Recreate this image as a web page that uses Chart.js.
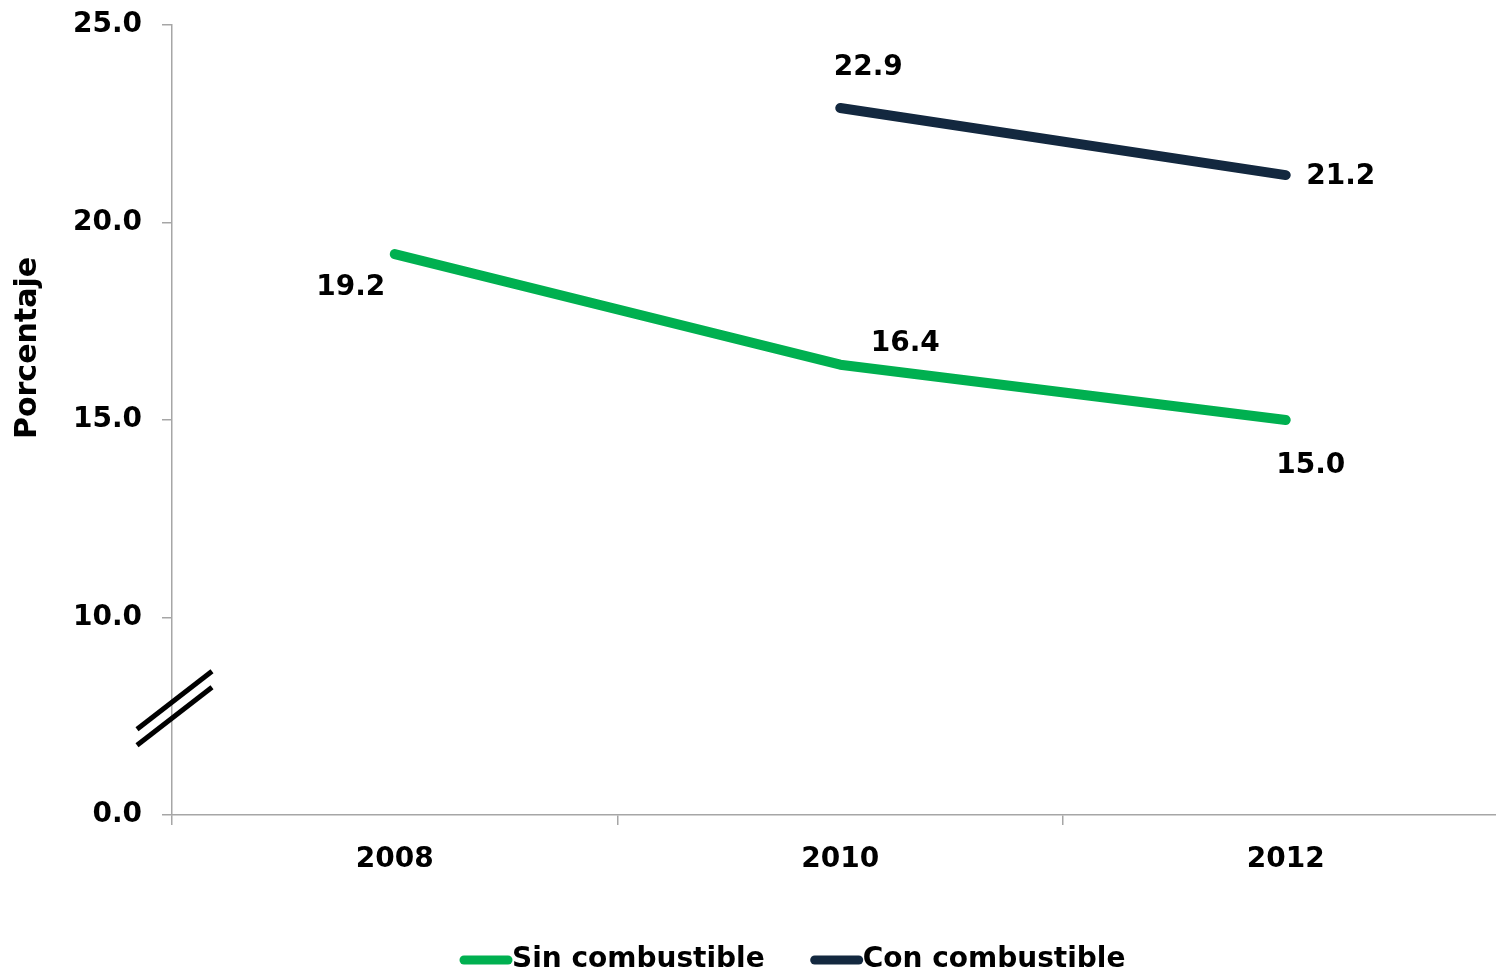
<!DOCTYPE html>
<html lang="es">
<head>
<meta charset="utf-8">
<title>Porcentaje sin y con combustible</title>
<script src="https://cdn.jsdelivr.net/npm/chart.js@4/dist/chart.umd.min.js"></script>
<style>
  html, body { margin: 0; padding: 0; background: #fff; overflow: hidden; }
  .wrap { width: 1496px; height: 974px; overflow: hidden; position: relative; }
  canvas { display: block; }
</style>
</head>
<body>
<div class="wrap">
  <canvas id="chart" width="1520" height="974"></canvas>
</div>
<script>
// datos
const years = ['2008', '2010', '2012'];
const sinCombustible = [19.2, 16.4, 15.0];
const conCombustible = [null, 22.9, 21.2];
const yTickLabels = ['0.0', '10.0', '15.0', '20.0', '25.0'];
const axisTitle = 'Porcentaje';

const GREEN = '#00b050';
const NAVY = '#13283f';
const AXIS = '#a6a6a6';
const FONT = '"DejaVu Sans", Verdana, sans-serif';

// desplazamiento de cada etiqueta respecto a su punto (px)
const labelOffsets = [
  [[-44, 34], [65, -21], [25, 46]],
  [null, [28, -40], [55, 2]],
];

const dataLabels = {
  id: 'dataLabels',
  afterDatasetsDraw(chart) {
    const ctx = chart.ctx;
    ctx.save();
    ctx.font = `bold 28px ${FONT}`;
    ctx.fillStyle = '#000';
    ctx.textAlign = 'center';
    ctx.textBaseline = 'middle';
    chart.data.datasets.forEach((ds, di) => {
      chart.getDatasetMeta(di).data.forEach((pt, i) => {
        const v = ds.data[i];
        if (v == null) return;
        const off = labelOffsets[di][i] || [0, -30];
        ctx.fillText(v.toFixed(1), pt.x + off[0], pt.y + off[1]);
      });
    });
    ctx.restore();
  },
};

// marca de corte del eje, titulo del eje y leyenda
const extras = {
  id: 'extras',
  afterDraw(chart) {
    const ctx = chart.ctx;
    const y = chart.scales.y;
    const cx = chart.chartArea.left + 2;
    const cy = y.getPixelForValue(7.7);
    ctx.save();
    ctx.strokeStyle = '#000';
    ctx.lineWidth = 5;
    [-8, 8].forEach((d) => {
      ctx.beginPath();
      ctx.moveTo(cx - 37, cy + d + 29);
      ctx.lineTo(cx + 38, cy + d - 29);
      ctx.stroke();
    });

    ctx.font = `bold 30px ${FONT}`;
    ctx.fillStyle = '#000';
    ctx.textAlign = 'center';
    ctx.textBaseline = 'middle';
    ctx.translate(28, 348);
    ctx.rotate(-Math.PI / 2);
    ctx.fillText(axisTitle, 0, 0);
    ctx.restore();

    ctx.save();
    ctx.font = `bold 28px ${FONT}`;
    ctx.textBaseline = 'middle';
    ctx.lineCap = 'round';
    ctx.lineWidth = 9;
    let x = 462;
    const ly = 960;
    chart.data.datasets.forEach((ds) => {
      ctx.strokeStyle = ds.borderColor;
      ctx.beginPath();
      ctx.moveTo(x + 2, ly);
      ctx.lineTo(x + 46, ly);
      ctx.stroke();
      ctx.fillStyle = '#000';
      ctx.textAlign = 'left';
      ctx.fillText(ds.label, x + 50, ly);
      x += 50 + ctx.measureText(ds.label).width + 48;
    });
    ctx.restore();
  },
};

new Chart(document.getElementById('chart'), {
  type: 'line',
  data: {
    labels: years,
    datasets: [
      {
        label: 'Sin combustible',
        data: sinCombustible,
        borderColor: GREEN,
        backgroundColor: GREEN,
        borderWidth: 10,
        borderCapStyle: 'round',
        borderJoinStyle: 'round',
        pointRadius: 0,
        tension: 0,
      },
      {
        label: 'Con combustible',
        data: conCombustible,
        borderColor: NAVY,
        backgroundColor: NAVY,
        borderWidth: 10,
        borderCapStyle: 'round',
        borderJoinStyle: 'round',
        pointRadius: 0,
        tension: 0,
      },
    ],
  },
  options: {
    responsive: false,
    animation: false,
    devicePixelRatio: 1,
    layout: { padding: { top: 25, right: 11.5, bottom: 0, left: 0 } },
    plugins: { legend: { display: false }, tooltip: { enabled: false } },
    scales: {
      x: {
        offset: true,
        grid: { offset: true, drawOnChartArea: false, drawTicks: true, tickLength: 10, color: AXIS, lineWidth: 1.5 },
        border: { color: AXIS, width: 1.5 },
        ticks: { color: '#000', padding: 18, font: { family: FONT, size: 28, weight: 'bold' }, maxRotation: 0 },
        afterFit: (s) => { s.height = 159; s.paddingLeft = 0; s.paddingRight = 0; },
      },
      y: {
        min: 5,
        max: 25,
        grid: { drawOnChartArea: false, drawTicks: true, tickLength: 10, color: AXIS, lineWidth: 1.5 },
        border: { color: AXIS, width: 1.5 },
        ticks: {
          stepSize: 5,
          color: '#000',
          padding: 20,
          font: { family: FONT, size: 28, weight: 'bold' },
          callback: (v, i) => yTickLabels[i],
        },
        afterFit: (s) => { s.width = 172; s.paddingTop = 0; s.paddingBottom = 0; },
      },
    },
  },
  plugins: [dataLabels, extras],
});
</script>
</body>
</html>
